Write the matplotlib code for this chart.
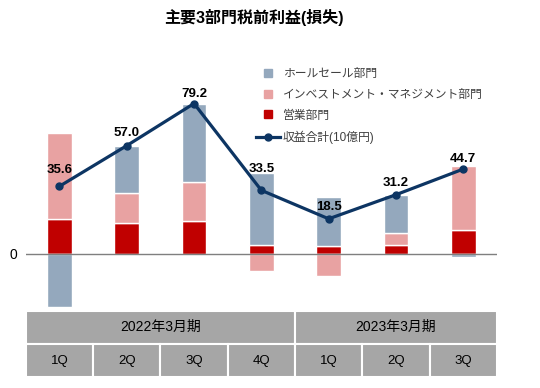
import matplotlib

matplotlib.use("Agg")
import matplotlib.pyplot as plt
from matplotlib.lines import Line2D
from matplotlib.patches import Rectangle
import numpy as np

plt.rcParams["font.family"] = ["Liberation Sans", "Noto Sans CJK JP"]

# data (10億円)
quarters = ["1Q", "2Q", "3Q", "4Q", "1Q", "2Q", "3Q"]
fiscal_years = ["2022年3月期", "2023年3月期"]
fy_sizes = [4, 3]
sales = [18.4, 16.5, 17.5, 4.5, 4.0, 4.8, 12.7]          # 営業部門
investment = [45.3, 15.5, 20.5, -8.9, -11.5, 6.0, 33.5]  # インベストメント・マネジメント部門
wholesale = [-28.1, 25.0, 41.2, 37.9, 26.0, 20.4, -1.5]  # ホールセール部門
total = [35.6, 57.0, 79.2, 33.5, 18.5, 31.2, 44.7]       # 収益合計

C_WHOLE = "#94a8bd"
C_INV = "#e8a2a2"
C_SALES = "#c00000"
C_LINE = "#0d3563"
C_TABLE = "#a6a6a6"

W, H = 540, 388
fig = plt.figure(figsize=(W / 100, H / 100), dpi=100)

left, right = 25.7, 497.0
ax = fig.add_axes([left / W, 1 - 310 / H, (right - left) / W, 250 / H])

x = np.arange(len(quarters))
bw = 0.37
pos_base = np.zeros(len(x))
neg_base = np.zeros(len(x))
for vals, color in [(sales, C_SALES), (investment, C_INV), (wholesale, C_WHOLE)]:
    vals = np.array(vals)
    base = np.where(vals >= 0, pos_base, neg_base)
    ax.bar(x, vals, bw, bottom=base, color=color, edgecolor="white", linewidth=1.0, zorder=2)
    pos_base = pos_base + np.where(vals >= 0, vals, 0)
    neg_base = neg_base + np.where(vals < 0, vals, 0)

ax.axhline(0, color="#7f7f7f", linewidth=1.0, zorder=3)
ax.plot(x, total, color=C_LINE, linewidth=2.3, marker="o", markersize=5, zorder=4)

label_off = [16, 13, 10, 21, 12, 12, 10]
for xi, v, off in zip(x, total, label_off):
    ax.annotate(f"{v:.1f}", (xi, v), xytext=(0, off), textcoords="offset pixels",
                ha="center", va="center", fontsize=9.5, fontweight="bold", color="black", zorder=5)

ax.set_xlim(-0.5, len(x) - 0.5)
ax.set_ylim(-29.5, 102.1)
ax.set_xticks([])
ax.set_yticks([0])
ax.set_yticklabels(["0"], fontsize=10)
ax.tick_params(axis="y", length=0, pad=6)
for s in ax.spines.values():
    s.set_visible(False)

handles = [
    Line2D([], [], linestyle="none", marker="s", markersize=6, color=C_WHOLE),
    Line2D([], [], linestyle="none", marker="s", markersize=6, color=C_INV),
    Line2D([], [], linestyle="none", marker="s", markersize=6, color=C_SALES),
    Line2D([], [], color=C_LINE, linewidth=2.3, marker="o", markersize=5),
]
labels = ["ホールセール部門", "インベストメント・マネジメント部門", "営業部門", "収益合計(10億円)"]
leg = fig.legend(handles, labels, loc="upper left", bbox_to_anchor=(250 / W, 1 - 62 / H),
                 frameon=False, fontsize=8.5, labelspacing=0.75, handlelength=2.0,
                 handletextpad=0.3, borderpad=0)
for t in leg.get_texts():
    t.set_color("#404040")

fig.text(254 / W, 1 - 18 / H, "主要3部門税前利益(損失)", ha="center", va="center",
         fontsize=11.5, fontweight="bold", color="black")

# category table
tax = fig.add_axes([left / W, 1 - 377.3 / H, (right - left) / W, 66.6 / H])
tax.set_xlim(-0.5, len(x) - 0.5)
tax.set_ylim(0, 2)
tax.axis("off")
start = -0.5
for fy, n in zip(fiscal_years, fy_sizes):
    tax.add_patch(Rectangle((start, 1), n, 1, facecolor=C_TABLE, edgecolor="white", linewidth=1.5))
    tax.text(start + n / 2, 1.5, fy, ha="center", va="center", fontsize=10, color="black")
    start += n
for xi, q in zip(x, quarters):
    tax.add_patch(Rectangle((xi - 0.5, 0), 1, 1, facecolor=C_TABLE, edgecolor="white", linewidth=1.5))
    tax.text(xi, 0.5, q, ha="center", va="center", fontsize=9.5, color="black")

fig.savefig("out.png", dpi=100)
